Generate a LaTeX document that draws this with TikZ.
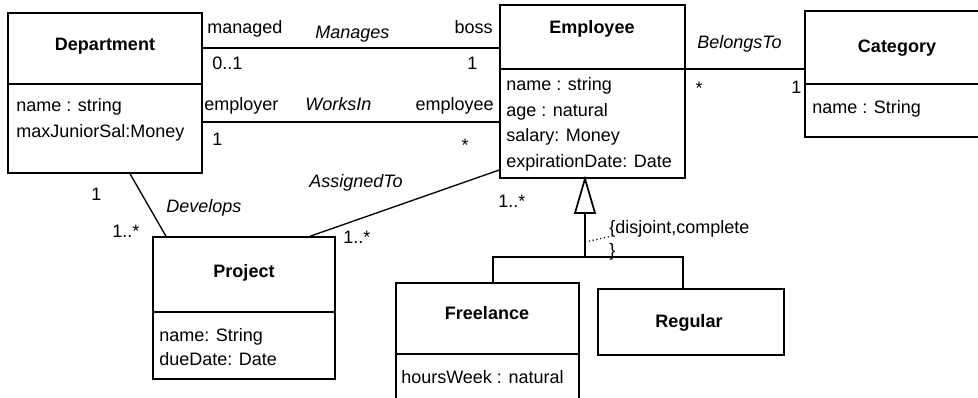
\documentclass[tikz,border=0pt]{standalone}
\usepackage{fontspec}
\setmainfont{Liberation Sans}
\usetikzlibrary{fit,arrows.meta}
\tikzset{
  box/.style={draw, inner sep=0pt, line width=1.1pt},
  divider/.style={line width=1.1pt},
  assoc/.style={line width=1pt},
  thickassoc/.style={line width=1.6pt},
  gen/.style={line width=1.6pt},
  txt/.style={inner sep=0pt, font=\fontsize{13.5}{19}\selectfont},
  ttl/.style={txt, font=\fontsize{13.5}{19}\selectfont\bfseries, anchor=base},
  attr/.style={txt, anchor=base west},
  role/.style={txt},
  aname/.style={txt, font=\fontsize{13.5}{19}\selectfont\itshape, anchor=base west},
}
\begin{document}
\begin{tikzpicture}[x=0.75pt, y=-0.75pt]
\useasboundingbox (0,0) rectangle (978,397);
\fill[white] (0,0) rectangle (978,397);
\clip (0,0) rectangle (978,397);

% ---- class boxes ----
\node[box, fit={(8,13)(202,173)}] (dept) {};
\draw[divider] (dept.west |- 0,84) -- (dept.east |- 0,84);
\node[ttl] (deptT) at (105,50) {Department};
\node[attr] (deptA1) at (16,111) {name : string};
\node[attr] (deptA2) at (16,137) {maxJuniorSal:Money};

\node[box, fit={(500,5)(685,178)}] (emp) {};
\draw[divider] (emp.west |- 0,69) -- (emp.east |- 0,69);
\node[ttl] (empT) at (592,33) {Employee};
\node[attr] (empA1) at (506,90) {name : string};
\node[attr] (empA2) at (506,116) {age : natural};
\node[attr] (empA3) at (506,141) {salary: Money};
\node[attr] (empA4) at (506,167) {expirationDate: Date};

\node[box, fit={(805,11)(990,137)}] (cat) {};
\draw[divider] (cat.west |- 0,84) -- (cat.east |- 0,84);
\node[ttl] (catT) at (897,52) {Category};
\node[attr] (catA1) at (812,113) {name : String};

\node[box, fit={(153,237)(335,379)}] (proj) {};
\draw[divider] (proj.west |- 0,312) -- (proj.east |- 0,312);
\node[ttl] (projT) at (244,277) {Project};
\node[attr] (projA1) at (159,341) {name: String};
\node[attr] (projA2) at (159,365) {dueDate: Date};

\node[box, fit={(396,283)(579,410)}] (free) {};
\draw[divider] (free.west |- 0,354) -- (free.east |- 0,354);
\node[ttl] (freeT) at (487,319) {Freelance};
\node[attr] (freeA1) at (401,383) {hoursWeek : natural};

\node[box, fit={(598,289)(784,355)}] (reg) {};
\node[ttl] (regT) at (689,327) {Regular};

% ---- Manages ----
\draw[thickassoc] (dept.east |- 0,48) -- (emp.west |- 0,48);
\node[role, anchor=base west] (manR1) at (207,33) {managed};
\node[aname] (manN) at (315,38) {Manages};
\node[role, anchor=base east] (manR2) at (493,33) {boss};
\node[role, anchor=base west] (manM1) at (212,69) {0..1};
\node[role, anchor=base west] (manM2) at (467,69) {1};

% ---- WorksIn ----
\draw[assoc] (dept.east |- 0,122) -- (emp.west |- 0,122);
\node[role, anchor=base west] (wiR1) at (204,110) {employer};
\node[aname] (wiN) at (305,110) {WorksIn};
\node[role, anchor=base east] (wiR2) at (494,110) {employee};
\node[role, anchor=base west] (wiM1) at (212,145) {1};
\node[role] (wiM2) at (465,145) {*};

% ---- BelongsTo ----
\draw[assoc] (emp.east |- 0,69) -- (cat.west |- 0,69);
\node[aname] (btN) at (697,48) {BelongsTo};
\node[role] (btM1) at (699,88) {*};
\node[role, anchor=base west] (btM2) at (791,93) {1};

% ---- Develops ----
\draw[assoc] (dept.south -| 130,0) -- (proj.north -| 166,0);
\node[role, anchor=base west] (dvM1) at (91,200) {1};
\node[aname] (dvN) at (166,212) {Develops};
\node[role, anchor=base west] (dvM2) at (112,237) {1..*};

% ---- AssignedTo ----
\draw[assoc] (proj.north -| 310,0) -- (emp.west |- 0,170);
\node[aname] (asN) at (309,187) {AssignedTo};
\node[role, anchor=base west] (asM1) at (343,243) {1..*};
\node[role, anchor=base west] (asM2) at (498,207) {1..*};

% ---- Generalization ----
\coordinate (tbase) at (585,213);
\coordinate (junc) at (585,257);
\draw[gen] (tbase) -- (junc);
\draw[line width=1.3pt, fill=white] (emp.south -| 585,0) -- (575,213) -- (595,213) -- cycle;
\draw[gen] (free.north -| 493,0) -- (493,257) -- (683,257) -- (reg.north -| 683,0);
\coordinate (dotEnd) at (612,236);
\draw[line width=0.9pt, dotted] (585,242) -- (dotEnd);
\node[role, anchor=base west] (gcon1) at (609,233) {\{disjoint,complete};
\node[role, anchor=base west] (gcon2) at (609,256) {\}};
\end{tikzpicture}
\end{document}
